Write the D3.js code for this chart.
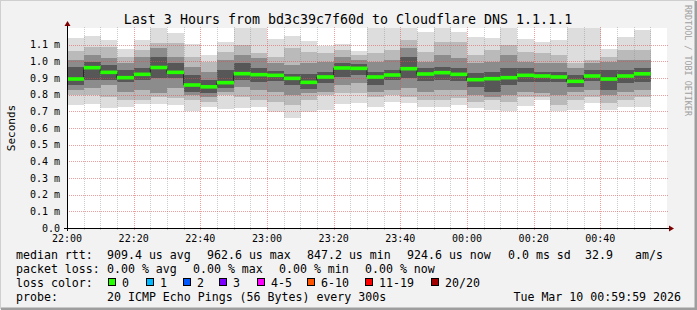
<html>
<head>
  <meta charset="utf-8" />
  <title>Last 3 Hours from bd3c39c7f60d to Cloudflare DNS 1.1.1.1</title>
  <style type="text/css">
    body { margin: 0; background: #f2f2f2; }
    svg { display: block; }
    text { font-family: "DejaVu Sans Mono", monospace; fill: #000; white-space: pre; }
  </style>
</head>
<script src="https://cdn.jsdelivr.net/npm/d3@7/dist/d3.min.js" charset="utf-8" type="text/javascript"></script>
<body>
<svg id="chart" width="697" height="310"></svg>
<script>
  // 5 minute steps, 22:00 .. 00:55
  var times = ["22:00","22:05","22:10","22:15","22:20","22:25","22:30","22:35","22:40","22:45","22:50","22:55",
    "23:00","23:05","23:10","23:15","23:20","23:25","23:30","23:35","23:40","23:45","23:50","23:55",
    "00:00","00:05","00:10","00:15","00:20","00:25","00:30","00:35","00:40","00:45","00:50","00:55"];

  // median rtt in ms
  var median = [0.894,0.962,0.934,0.902,0.922,0.963,0.934,0.858,0.847,0.872,0.926,0.920,0.916,0.898,0.874,0.906,0.960,0.958,
    0.906,0.918,0.956,0.924,0.932,0.922,0.890,0.896,0.902,0.916,0.912,0.906,0.880,0.912,0.894,0.912,0.925];

  // smoke: outer envelope (fastest / slowest ping) and inner bands, ms
  var pingMax = [1.138,1.152,1.128,1.074,1.128,1.2,1.17,1.102,1.038,1.118,1.2,1.2,1.134,1.152,1.122,1.094,1.102,1.062,
    1.2,1.2,1.2,1.174,1.2,1.178,1.146,1.142,1.2,1.134,1.118,1.128,1.2,1.2,1.074,1.148,1.188];
  var pingMin = [0.738,0.742,0.722,0.728,0.742,0.742,0.738,0.702,0.726,0.714,0.722,0.728,0.694,0.662,0.698,0.708,0.746,0.752,
    0.728,0.758,0.748,0.728,0.728,0.738,0.718,0.708,0.702,0.734,0.770,0.702,0.708,0.748,0.708,0.728,0.728];
  var upper2 = [1.062,1.088,1.088,1.028,1.068,1.108,1.108,1.028,0.998,1.058,1.098,1.048,1.028,1.078,1.058,1.048,1.068,1.038,
    1.048,1.068,1.128,1.058,1.118,1.118,1.038,1.068,1.098,1.058,1.048,1.038,0.988,1.008,1.028,1.068,1.068];
  var lower2 = [0.798,0.798,0.788,0.768,0.768,0.788,0.778,0.768,0.758,0.798,0.788,0.768,0.758,0.738,0.768,0.798,0.808,0.808,
    0.788,0.798,0.788,0.768,0.768,0.778,0.758,0.768,0.758,0.788,0.788,0.738,0.768,0.788,0.748,0.768,0.788];
  var upper3 = [1.008,1.038,1.018,0.988,1.028,1.078,1.028,0.968,0.938,1.008,1.038,1.018,0.988,0.978,0.988,0.998,1.028,1.008,
    0.998,1.008,1.078,0.998,1.038,1.018,0.988,0.998,1.038,0.998,0.988,0.988,0.958,0.988,0.998,1.008,1.008];
  var lower3 = [0.828,0.838,0.858,0.818,0.828,0.808,0.838,0.798,0.788,0.818,0.848,0.828,0.818,0.798,0.808,0.818,0.858,0.868,
    0.818,0.828,0.838,0.818,0.828,0.828,0.798,0.788,0.798,0.818,0.808,0.798,0.818,0.828,0.798,0.818,0.828];
  var upper4 = [0.968,0.998,0.978,0.948,0.958,1.028,0.988,0.918,0.888,0.948,0.988,0.958,0.942,0.922,0.922,0.938,0.988,0.982,
    0.938,0.948,1.028,0.958,0.968,0.958,0.928,0.938,0.958,0.958,0.938,0.938,0.918,0.948,0.948,0.948,0.958];
  var lower4 = [0.858,0.888,0.888,0.874,0.888,0.898,0.898,0.818,0.808,0.838,0.888,0.878,0.882,0.858,0.834,0.868,0.908,0.918,
    0.858,0.888,0.898,0.882,0.888,0.882,0.848,0.818,0.858,0.878,0.874,0.874,0.848,0.882,0.828,0.868,0.878];

  var yTicks = [0,0.1,0.2,0.3,0.4,0.5,0.6,0.7,0.8,0.9,1.0,1.1];
  var yTickLabels = ["0.0","0.1 m","0.2 m","0.3 m","0.4 m","0.5 m","0.6 m","0.7 m","0.8 m","0.9 m","1.0 m","1.1 m"];
  var xTickLabels = ["22:00","22:20","22:40","23:00","23:20","23:40","00:00","00:20","00:40"];

  var lossLabels = ["0","1","2","3","4-5","6-10","11-19","20/20"];
  var lossColors = ["#26ff00","#00b8ff","#0059ff","#7e00ff","#ff00ff","#ff5500","#ff0000","#a00000"];

  var parse = d3.timeParse("%Y-%m-%d %H:%M");
  function toDate(s) {
    var day = +s.slice(0, 2) < 12 ? "2026-03-10 " : "2026-03-09 ";
    return parse(day + s);
  }

  var svg = d3.select("#chart");

  // background with rrdtool-ish shade
  svg.append("rect").attr("width", 697).attr("height", 310).attr("fill", "#f2f2f2");
  svg.append("path").attr("d", "M0,309V0H696").attr("fill", "none").attr("stroke", "#cfcfcf").attr("stroke-width", 2);
  svg.append("path").attr("d", "M1,309H696V1").attr("fill", "none").attr("stroke", "#9e9e9e").attr("stroke-width", 3);

  var x = d3.scaleTime().domain([toDate("22:00"), toDate("01:00")]).range([67, 667]);
  var y = d3.scaleLinear().domain([0, 1.2]).range([228, 28]);

  var plot = svg.append("g");
  plot.append("rect").attr("x", 67).attr("y", 28).attr("width", 600).attr("height", 200).attr("fill", "#fff");

  var clip = svg.append("clipPath").attr("id", "clip");
  clip.append("rect").attr("x", 67).attr("y", 28).attr("width", 600).attr("height", 200);

  var cols = median.map(function (m, i) {
    return { x0: x(toDate(times[i])), x1: x(toDate(times[i + 1])), i: i };
  });

  var bands = [
    { lo: pingMin, hi: pingMax, color: "#dddddd" },
    { lo: lower2, hi: upper2, color: "#bababa" },
    { lo: lower3, hi: upper3, color: "#8c8c8c" },
    { lo: lower4, hi: upper4, color: "#575757" }
  ];

  var smoke = plot.append("g").attr("clip-path", "url(#clip)");
  bands.forEach(function (b) {
    smoke.append("g").selectAll("rect")
      .data(cols)
      .enter()
      .append("rect")
      .attr("x", function (d) { return d.x0 })
      .attr("width", function (d) { return d.x1 - d.x0 + 0.3 })
      .attr("y", function (d) { return y(b.hi[d.i]) })
      .attr("height", function (d) { return y(b.lo[d.i]) - y(b.hi[d.i]) })
      .attr("fill", b.color)
      .attr("shape-rendering", "crispEdges");
  });

  // grid
  var minorTimes = times.slice(1).map(toDate).filter(function (d) { return d.getMinutes() % 20 != 0 });
  var majorTimes = xTickLabels.slice(1).map(toDate);
  var grid = plot.append("g").attr("shape-rendering", "crispEdges");
  grid.selectAll("line.minor")
    .data(minorTimes)
    .enter()
    .append("line")
    .attr("x1", function (d) { return Math.round(x(d)) + 0.5 })
    .attr("x2", function (d) { return Math.round(x(d)) + 0.5 })
    .attr("y1", 230).attr("y2", 26)
    .style("stroke", "rgba(143,143,143,0.45)")
    .style("stroke-dasharray", "1,1");
  grid.selectAll("line.vmajor")
    .data(majorTimes)
    .enter()
    .append("line")
    .attr("x1", function (d) { return Math.round(x(d)) + 0.5 })
    .attr("x2", function (d) { return Math.round(x(d)) + 0.5 })
    .attr("y1", 230).attr("y2", 26)
    .style("stroke", "rgba(222,80,80,0.55)")
    .style("stroke-dasharray", "1,1");
  grid.selectAll("line.hmajor")
    .data(yTicks.slice(1))
    .enter()
    .append("line")
    .attr("x1", 67).attr("x2", 669)
    .attr("y1", function (d) { return Math.round(y(d)) + 0.5 })
    .attr("y2", function (d) { return Math.round(y(d)) + 0.5 })
    .style("stroke", "rgba(222,80,80,0.55)")
    .style("stroke-dasharray", "1,1");

  // median: dark step line plus loss-coloured segments
  var stepPts = cols.map(function (d) { return [d.x0, y(median[d.i])] });
  stepPts.push([cols[cols.length - 1].x1, y(median[median.length - 1])]);
  plot.append("path")
    .attr("d", d3.line().curve(d3.curveStepAfter)(stepPts))
    .attr("fill", "none")
    .attr("stroke", "#202020")
    .attr("stroke-width", 1);
  plot.append("g").selectAll("rect")
    .data(cols)
    .enter()
    .append("rect")
    .attr("x", function (d) { return d.x0 })
    .attr("width", function (d) { return d.x1 - d.x0 + 0.3 })
    .attr("y", function (d) { return y(median[d.i]) - 1.8 })
    .attr("height", 3.6)
    .attr("fill", lossColors[0]);

  // axes
  plot.append("line").attr("x1", 64).attr("x2", 670).attr("y1", 228.5).attr("y2", 228.5).attr("stroke", "#000");
  plot.append("line").attr("x1", 67.5).attr("x2", 67.5).attr("y1", 231).attr("y2", 25).attr("stroke", "#000");
  plot.append("path").attr("d", "M669,225.5L674,228.5L669,231.5Z").attr("fill", "#7f0000");
  plot.append("path").attr("d", "M64.5,26L67.5,21L70.5,26Z").attr("fill", "#7f0000");

  svg.append("g").selectAll("text")
    .data(xTickLabels)
    .enter()
    .append("text")
    .attr("x", function (d) { return x(toDate(d)) })
    .attr("y", 242)
    .style("text-anchor", "middle")
    .style("font-size", "10px")
    .text(function (d) { return d });

  svg.append("g").selectAll("text")
    .data(yTicks)
    .enter()
    .append("text")
    .attr("x", 60)
    .attr("y", function (d) { return y(d) + 3.5 })
    .style("text-anchor", "end")
    .style("font-size", "10px")
    .text(function (d, i) { return yTickLabels[i] });

  // titles
  svg.append("text").attr("x", 348).attr("y", 23.5).style("text-anchor", "middle").style("font-size", "13.3px")
    .text("Last 3 Hours from bd3c39c7f60d to Cloudflare DNS 1.1.1.1");
  svg.append("text").attr("transform", "translate(15,128) rotate(-90)").style("text-anchor", "middle").style("font-size", "11px")
    .text("Seconds");
  svg.append("text").attr("transform", "translate(685,5) rotate(90)").style("font-size", "8.4px").style("fill", "#a0a0a0")
    .text("RRDTOOL / TOBI OETIKER");

  // legend
  var legend = svg.append("g").style("font-size", "11.6px");
  var rows = [
    [[16, "median rtt:"], [107, "909.4 us avg"], [207, "962.6 us max"], [307, "847.2 us min"], [407, "924.6 us now"],
     [508, "0.0 ms sd"], [585, "32.9"], [635, "am/s"]],
    [[16, "packet loss:"], [107, "0.00 % avg"], [193, "0.00 % max"], [279, "0.00 % min"], [365, "0.00 % now"]],
    [[16, "loss color:"]],
    [[16, "probe:"], [107, "20 ICMP Echo Pings (56 Bytes) every 300s"]]
  ];
  var rowY = [259, 273, 287, 301];
  rows.forEach(function (r, ri) {
    legend.append("g").selectAll("text")
      .data(r)
      .enter()
      .append("text")
      .attr("x", function (d) { return d[0] })
      .attr("y", rowY[ri])
      .text(function (d) { return d[1] });
  });
  legend.append("text").attr("x", 681).attr("y", 301).style("text-anchor", "end").text("Tue Mar 10 00:59:59 2026");

  var boxX = [108, 146, 183, 219, 257, 307, 365, 431];
  var lossItems = legend.append("g").selectAll("g")
    .data(lossLabels)
    .enter()
    .append("g");
  lossItems.append("rect")
    .attr("x", function (d, i) { return boxX[i] + 0.5 })
    .attr("y", 278.5)
    .attr("width", 7).attr("height", 7)
    .attr("fill", function (d, i) { return lossColors[i] })
    .attr("stroke", "#000");
  lossItems.append("text")
    .attr("x", function (d, i) { return boxX[i] + 14 })
    .attr("y", 287)
    .text(function (d) { return d });
</script>
</body>
</html>
